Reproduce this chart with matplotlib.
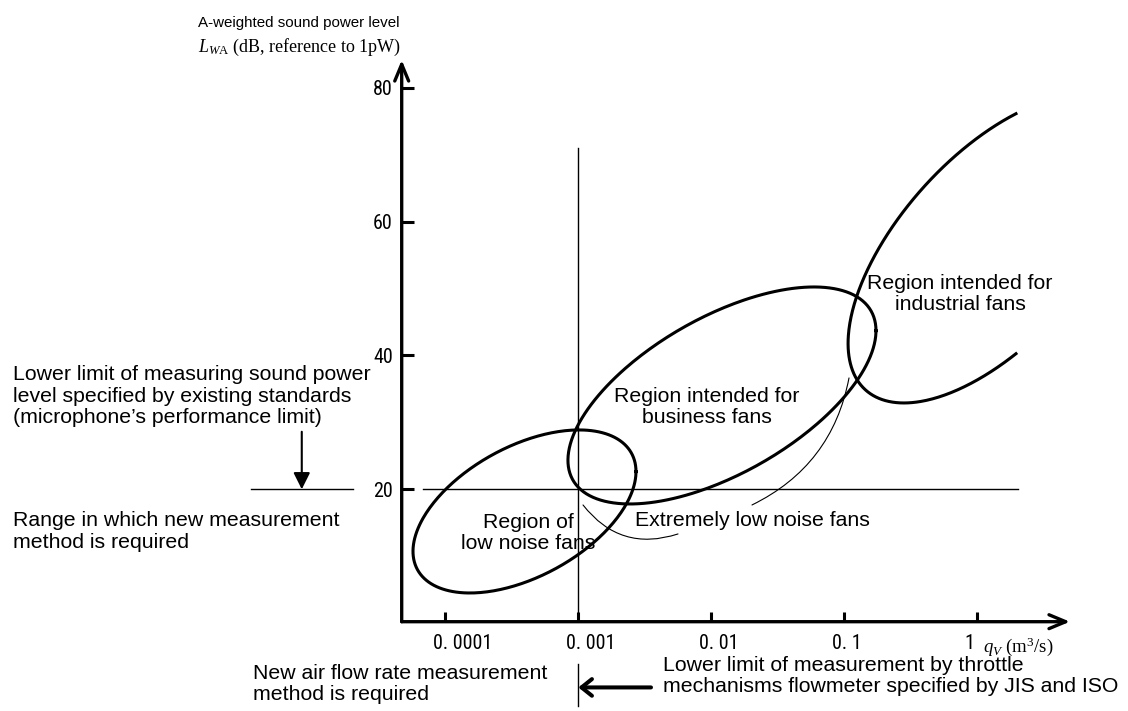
import numpy as np
import matplotlib.pyplot as plt
from matplotlib.transforms import ScaledTranslation

plt.rcParams['font.family'] = ['Liberation Sans', 'DejaVu Sans']
plt.rcParams['mathtext.fontset'] = 'custom'
plt.rcParams['mathtext.rm'] = 'Liberation Serif'
plt.rcParams['mathtext.it'] = 'Liberation Serif:italic'

W, H = 1128, 711

# axis range: log10(q_V) and L_WA in dB
x_lo, x_hi = -4.326, 0.703
y_lo, y_hi = 0.22, 84.14

x_ticks = [1e-4, 1e-3, 1e-2, 1e-1, 1]
x_labels = ['0. 0001', '0. 001', '0. 01', '0. 1', '1']
y_ticks = [20, 40, 60, 80]

limit_level = 20     # dB, microphone limit of existing standards
limit_flow = 1e-3    # m3/s, throttle flowmeter limit (JIS / ISO)

# fan regions: centre log10(q), centre dB, half width (decades), half height (dB), tilt
low_noise = (-3.402, 16.69, 0.839, 12.18, 0.511)
business = (-1.916, 34.02, 1.159, 16.21, 0.64)
industrial = (0.120, 55.9, 1.087, 23.0, 0.66)
industrial_end = 0.2965   # log10(q) where the open industrial curve stops


def region(c, t):
    cx, cy, rx, ry, ph = c
    return 10 ** (cx + rx * np.cos(t)), cy + ry * np.sin(t + ph)


def at(x, y):
    # pixel position (from top-left) -> figure fraction
    return x / W, 1 - y / H


fig = plt.figure(figsize=(W / 100, H / 100), dpi=100)
ax = fig.add_axes([401.7 / W, 1 - 621.7 / H, (1070 - 401.7) / W, (621.7 - 60) / H])
ax.set_xscale('log')
ax.set_xlim(10 ** x_lo, 10 ** x_hi)
ax.set_ylim(y_lo, y_hi)
ax.patch.set_visible(False)
for s in ax.spines.values():
    s.set_visible(False)

narrow = ['Liberation Sans Narrow', 'Arial Narrow', 'Roboto Condensed', 'Liberation Sans']
ax.set_xticks(x_ticks, x_labels)
ax.xaxis.set_minor_locator(plt.NullLocator())
ax.set_yticks(y_ticks)
ax.tick_params(axis='x', direction='in', length=7.2, width=2.2, pad=9.0)
ax.tick_params(axis='y', direction='in', length=8.6, width=2.2, pad=6.3)
shift = ScaledTranslation(-12 / 100, 0, fig.dpi_scale_trans)
for lbl in ax.get_xticklabels():
    lbl.set_horizontalalignment('left')
    lbl.set_transform(lbl.get_transform() + shift)
for lbl in ax.get_xticklabels() + ax.get_yticklabels():
    lbl.set_fontfamily(narrow)
    lbl.set_fontsize(14.5)

# axes with arrow heads
axis_arrow = dict(arrowstyle='->,head_length=0.6,head_width=0.25', lw=2.4,
                  color='black', shrinkA=0, shrinkB=0, mutation_scale=20)
ax.annotate('', xy=(0, 1), xytext=(0, 0), xycoords='axes fraction',
            arrowprops=axis_arrow, annotation_clip=False)
ax.annotate('', xy=(1, 0), xytext=(0, 0), xycoords='axes fraction',
            arrowprops=axis_arrow, annotation_clip=False)

# limit lines
ax.plot([10 ** -4.1655, 10 ** 0.3115], [limit_level, limit_level], color='black', lw=1)
ax.plot([10 ** -5.46, 10 ** -4.692], [limit_level, limit_level], color='black', lw=1,
        clip_on=False)
ax.plot([limit_flow, limit_flow], [1.67, 71.0], color='black', lw=1)
ax.plot([limit_flow, limit_flow], [-6.1, -12.4], color='black', lw=1, clip_on=False)

# regions
t = np.linspace(0, 2 * np.pi, 300)
ax.plot(*region(low_noise, t), color='black', lw=2.2)
ax.plot(*region(business, t), color='black', lw=2.2)
t0 = np.arccos((industrial_end - industrial[0]) / industrial[2])
t_ind = np.linspace(t0, 2 * np.pi - t0, 300)
ax.plot(*region(industrial, t_ind), color='black', lw=2.2)

# leader lines for "Extremely low noise fans"
ax.annotate('', xy=(10 ** -2.2468, 13.33), xytext=(10 ** -2.9616, 17.66),
            arrowprops=dict(arrowstyle='-', lw=0.8, color='black',
                            connectionstyle='arc3,rad=0.35', shrinkA=0, shrinkB=0))
ax.annotate('', xy=(10 ** -0.960, 36.64), xytext=(10 ** -1.690, 17.66),
            arrowprops=dict(arrowstyle='-', lw=0.8, color='black',
                            connectionstyle='arc3,rad=0.25', shrinkA=0, shrinkB=0))

# arrow onto the 20 dB limit
ax.annotate('', xy=(10 ** -5.078, limit_level), xytext=(10 ** -5.078, 28.6),
            arrowprops=dict(arrowstyle='-|>,head_length=1.0,head_width=0.5', lw=1.5,
                            color='black', shrinkA=0, shrinkB=0, mutation_scale=10),
            annotation_clip=False)
# arrow onto the flow-rate limit
ax.annotate('', xy=(10 ** -2.997, -9.6), xytext=(10 ** -2.45, -9.6),
            arrowprops=dict(arrowstyle='->,head_length=0.5,head_width=0.4', lw=2.9,
                            color='black', shrinkA=0, shrinkB=0, mutation_scale=15),
            annotation_clip=False)

body = 15.3
serif = 'Liberation Serif'
fig.text(*at(198, 27), 'A-weighted sound power level', fontsize=10.9, va='baseline')
fig.text(*at(198, 52), '$L_{W\\mathrm{A}}$ (dB, reference to 1pW)', fontsize=13,
         family=serif, va='baseline')
fig.text(*at(983, 652), '$q_V$ (m$^3$/s)', fontsize=13.5, family=serif, va='baseline')

fig.text(*at(12.7, 365.4), 'Lower limit of measuring sound power\n'
         'level specified by existing standards\n(microphone\u2019s performance limit)',
         fontsize=body, va='top', linespacing=1.15)
fig.text(*at(12.7, 511.4), 'Range in which new measurement\nmethod is required',
         fontsize=body, va='top', linespacing=1.15)
fig.text(*at(253, 664), 'New air flow rate measurement\nmethod is required',
         fontsize=body, va='top', linespacing=1.15)
fig.text(*at(663, 656), 'Lower limit of measurement by throttle\n'
         'mechanisms flowmeter specified by JIS and ISO',
         fontsize=body, va='top', linespacing=1.15)

fig.text(*at(528, 513), 'Region of\nlow noise fans', fontsize=body, ha='center',
         va='top', linespacing=1.15)
fig.text(*at(707, 386.7), 'Region intended for\nbusiness fans', fontsize=body,
         ha='center', va='top', linespacing=1.15)
fig.text(*at(960, 273.7), 'Region intended for\nindustrial fans', fontsize=body,
         ha='center', va='top', linespacing=1.15)
fig.text(*at(635, 526), 'Extremely low noise fans', fontsize=body, va='baseline')

fig.savefig('out.png', dpi=100)
